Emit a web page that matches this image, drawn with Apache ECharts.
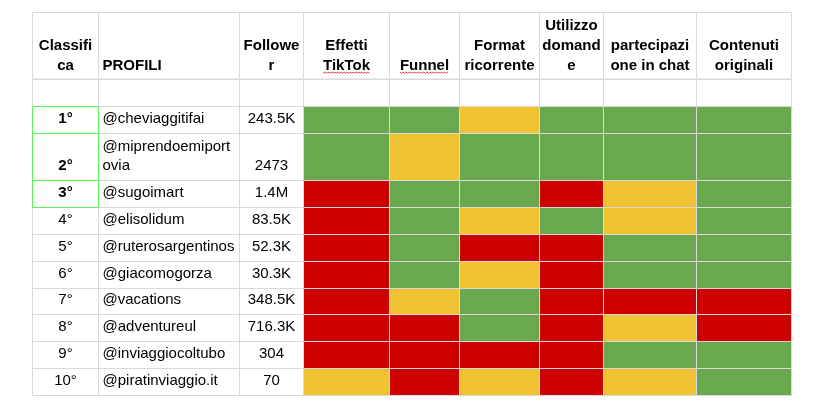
<!DOCTYPE html>
<html><head><meta charset="utf-8">
<script src="https://cdn.jsdelivr.net/npm/echarts@6/dist/echarts.min.js"></script>
<style>html,body{margin:0;padding:0;background:#fff}#c{width:820px;height:409px}</style>
</head><body><div id="c"></div>
<script>
// ---- data ----
const headers = ['Classifi\nca', 'PROFILI', 'Followe\nr', 'Effetti\nTikTok', 'Funnel', 'Format\nricorrente', 'Utilizzo\ndomand\ne', 'partecipazi\none in chat', 'Contenuti\noriginali'];
const ranks = ['1°', '2°', '3°', '4°', '5°', '6°', '7°', '8°', '9°', '10°'];
const profiles = ['@cheviaggitifai', '@miprendoemiportovia', '@sugoimart', '@elisolidum', '@ruterosargentinos', '@giacomogorza', '@vacations', '@adventureul', '@inviaggiocoltubo', '@piratinviaggio.it'];
const followers = ['243.5K', '2473', '1.4M', '83.5K', '52.3K', '30.3K', '348.5K', '716.3K', '304', '70'];
// G = verde, Y = giallo, R = rosso
const effettiTikTok      = ['G', 'G', 'R', 'R', 'R', 'R', 'R', 'R', 'R', 'Y'];
const funnel             = ['G', 'Y', 'G', 'G', 'G', 'G', 'Y', 'R', 'R', 'R'];
const formatRicorrente   = ['Y', 'G', 'G', 'Y', 'R', 'Y', 'G', 'G', 'R', 'Y'];
const utilizzoDomande    = ['G', 'G', 'R', 'G', 'R', 'R', 'R', 'R', 'R', 'R'];
const partecipazioneChat = ['G', 'G', 'Y', 'Y', 'G', 'G', 'R', 'Y', 'G', 'Y'];
const contenutiOriginali = ['G', 'G', 'G', 'G', 'G', 'G', 'R', 'R', 'G', 'G'];
const criteria = [effettiTikTok, funnel, formatRicorrente, utilizzoDomande, partecipazioneChat, contenutiOriginali];
const highlightedRanks = 3;

// ---- layout / style ----
const STATUS_COLORS = { G: '#6aa84f', Y: '#f1c232', R: '#cc0000' };
const COL_EDGES = [0, 66, 207, 271, 357, 427, 507, 571, 664, 759];
const ROW_EDGES = [0, 67, 94, 121, 168, 195, 222, 249, 276, 302, 329, 356, 383];
const FONT = 'Liberation Sans, Arial, sans-serif';
const GRID_COLOR = '#d9d9d9';
const spellUnderline = { 3: 'TikTok', 4: 'Funnel' };

const measureCtx = document.createElement('canvas').getContext('2d');
function textWidth(t, font) { measureCtx.font = font; return measureCtx.measureText(t).width; }

// ---- build cells ----
const cells = [];
headers.forEach((h, c) => cells.push({ c, r: 0, kind: 'header', text: h }));
headers.forEach((h, c) => cells.push({ c, r: 1, kind: 'empty', text: '' }));
ranks.forEach((rk, i) => {
  const r = i + 2;
  cells.push({ c: 0, r, kind: 'rank', text: rk, bold: i < highlightedRanks });
  cells.push({ c: 1, r, kind: 'profile', text: profiles[i] });
  cells.push({ c: 2, r, kind: 'followers', text: followers[i] });
  criteria.forEach((arr, k) => cells.push({ c: 3 + k, r, kind: 'status', fill: STATUS_COLORS[arr[i]] }));
});
const hlCells = [];
for (let i = 0; i < highlightedRanks; i++) hlCells.push({ c: 0, r: i + 2 });

function rectOf(api, c, r) {
  const p0 = api.coord([COL_EDGES[c], ROW_EDGES[r]]);
  const p1 = api.coord([COL_EDGES[c + 1], ROW_EDGES[r + 1]]);
  return { x: Math.round(p0[0]) + 0.5, y: Math.round(p0[1]) + 0.5, w: Math.round(p1[0]) - Math.round(p0[0]), h: Math.round(p1[1]) - Math.round(p0[1]) };
}

function renderCell(params, api) {
  const cell = cells[params.dataIndex];
  const R = rectOf(api, cell.c, cell.r);
  const children = [{
    type: 'rect', shape: { x: R.x, y: R.y, width: R.w, height: R.h },
    style: { fill: cell.fill || '#ffffff', stroke: GRID_COLOR, lineWidth: 1 }
  }];
  if (cell.kind === 'header') {
    const left = cell.c === 1;
    const cx = R.x + R.w / 2;
    children.push({
      type: 'text',
      style: {
        text: cell.text, x: left ? R.x + 4 : cx, y: R.y + R.h - 4,
        align: left ? 'left' : 'center', verticalAlign: 'bottom',
        fontFamily: FONT, fontSize: 15, fontWeight: 'bold', lineHeight: 20, fill: '#000'
      }
    });
    children.push({
      type: 'line', shape: { x1: R.x, y1: R.y + R.h, x2: R.x + R.w, y2: R.y + R.h },
      style: { stroke: GRID_COLOR, lineWidth: 2 }
    });
    if (spellUnderline[cell.c]) {
      const w = textWidth(spellUnderline[cell.c], 'bold 15px ' + FONT);
      const pts = [];
      const yb = R.y + R.h - 7.5;
      let k = 0;
      for (let x = cx - w / 2; x <= cx + w / 2 + 0.1; x += 1.5, k++) pts.push([x, yb + (k % 2 ? 1.2 : 0)]);
      children.push({ type: 'polyline', shape: { points: pts }, style: { stroke: '#e03030', lineWidth: 0.9, fill: null } });
    }
  } else if (cell.text) {
    const left = cell.kind === 'profile';
    children.push({
      type: 'text',
      style: {
        text: cell.text, x: left ? R.x + 4 : R.x + R.w / 2, y: R.y + R.h - 5.5,
        align: left ? 'left' : 'center', verticalAlign: 'bottom',
        width: left ? R.w - 8 : undefined, overflow: left ? 'breakAll' : undefined,
        fontFamily: FONT, fontSize: 15, fontWeight: cell.bold ? 'bold' : 'normal', lineHeight: 18.5, fill: '#000'
      }
    });
  }
  return { type: 'group', children };
}

function renderHighlight(params, api) {
  const cell = hlCells[params.dataIndex];
  const R = rectOf(api, cell.c, cell.r);
  return { type: 'rect', shape: { x: R.x, y: R.y, width: R.w, height: R.h }, style: { fill: null, stroke: '#5cf25c', lineWidth: 1 } };
}

const chart = echarts.init(document.getElementById('c'), null, { renderer: 'canvas' });
chart.setOption({
  animation: false,
  backgroundColor: '#ffffff',
  grid: { left: 32, top: 12, width: 759, height: 383 },
  xAxis: { type: 'value', min: 0, max: COL_EDGES[COL_EDGES.length - 1], show: false },
  yAxis: { type: 'value', min: 0, max: ROW_EDGES[ROW_EDGES.length - 1], inverse: true, show: false },
  series: [
    { type: 'custom', coordinateSystem: 'cartesian2d', renderItem: renderCell, data: cells.map(c => [COL_EDGES[c.c], ROW_EDGES[c.r]]), silent: true, clip: false },
    { type: 'custom', coordinateSystem: 'cartesian2d', renderItem: renderHighlight, data: hlCells.map(c => [COL_EDGES[c.c], ROW_EDGES[c.r]]), silent: true, z: 5, clip: false }
  ]
});
</script></body></html>
